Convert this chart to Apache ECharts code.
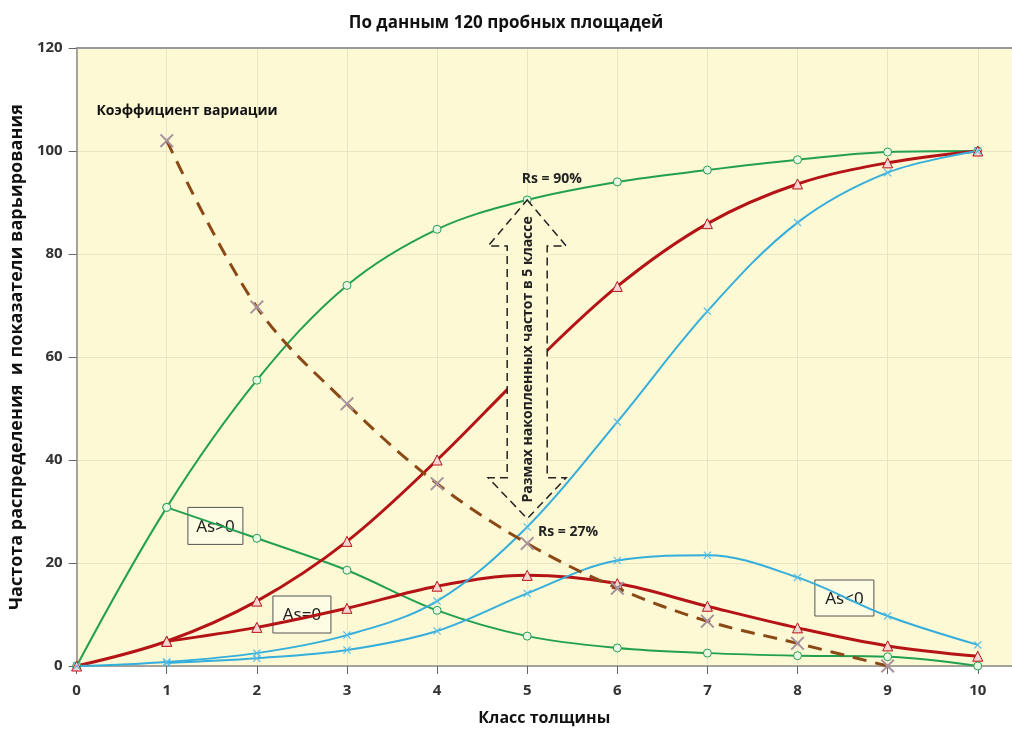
<!DOCTYPE html>
<html><head><meta charset="utf-8">
<script src="https://cdn.jsdelivr.net/npm/echarts@6/dist/echarts.min.js"></script>
<style>html,body{margin:0;padding:0;background:#fff}#c{width:1012px;height:731px}</style>
</head><body><div id="c"></div>
<script>
const classes=[0,1,2,3,4,5,6,7,8,9,10];
const greenCum=[0,30.8,55.5,73.9,84.8,90.5,94.0,96.3,98.3,99.8,100];
const greenFreq=[null,30.8,24.8,18.6,10.8,5.8,3.5,2.5,2.0,1.8,0];
const redCum=[0,4.8,12.6,24.2,40,57.5,73.7,85.9,93.6,97.7,100];
const redFreq=[null,4.8,7.5,11.2,15.5,17.6,16.0,11.6,7.4,3.9,1.9];
const blueCum=[0,0.8,2.5,6.0,12.6,27,47.4,68.9,86.1,95.8,100];
const blueFreq=[null,0.6,1.5,3.1,6.8,14.1,20.5,21.5,17.2,9.7,4.1];
const cvValues=[null,102,69.7,50.9,35.4,23.8,15.1,8.7,4.4,0,null];
const xTickLabels=['0','1','2','3','4','5','6','7','8','9','10'];
const yTickLabels=['0','20','40','60','80','100','120'];

const FONT='"Open Sans", "DejaVu Sans", sans-serif';
const BG='#fdf9d5';
const xPath='path://M0,1L1,0L5,4L9,0L10,1L6,5L10,9L9,10L5,6L1,10L0,9L4,5Z';
function pairs(arr){return classes.map((c,i)=>[c,arr[i]]);}

const chart=echarts.init(document.getElementById('c'));
const greenStyle={type:'line',smooth:0.35,symbol:'circle',symbolSize:8,
  lineStyle:{color:'#23a04f',width:2},itemStyle:{color:'#eaf6e4',borderColor:'#23a04f',borderWidth:1},z:3};
const redStyle={type:'line',smooth:0.35,symbol:'triangle',symbolSize:10,
  lineStyle:{color:'#b51417',width:3},itemStyle:{color:'#f6d4d2',borderColor:'#b51417',borderWidth:1},z:3};
const blueStyle={type:'line',smooth:0.35,symbol:xPath,symbolSize:8,
  lineStyle:{color:'#35aedb',width:2},itemStyle:{color:'#55bde6'},z:3};

chart.setOption({
  animation:false,
  backgroundColor:'#fff',
  title:{text:'По данным 120 пробных площадей',left:'center',top:10,
    textStyle:{fontFamily:FONT,fontSize:17,fontWeight:'bold',color:'#111'}},
  grid:{left:75,right:0,top:48,bottom:63,show:true,backgroundColor:BG,borderWidth:0},
  xAxis:[{type:'value',min:0,max:10.38,interval:1,
    name:'Класс толщины',nameLocation:'middle',nameGap:44,
    nameTextStyle:{fontFamily:FONT,fontSize:16,fontWeight:'bold',color:'#111'},
    axisLine:{show:true,lineStyle:{color:'#8a8a8a',width:1.5}},
    axisTick:{show:true,length:8,lineStyle:{color:'#666'}},
    axisLabel:{showMaxLabel:false,margin:17,fontFamily:FONT,fontSize:15,fontWeight:'bold',color:'#333',
      formatter:v=>{const i=Math.round(v);return (Math.abs(v-i)<1e-6&&i<xTickLabels.length)?xTickLabels[i]:'';}},
    splitLine:{show:true,lineStyle:{color:'#e9e4c3',width:1}}},
   {type:'value',position:'top',min:0,max:10.38,axisLine:{show:true,lineStyle:{color:'#999',width:2}},
    axisTick:{show:false},axisLabel:{show:false},splitLine:{show:false}}],
  yAxis:{type:'value',min:0,max:120,interval:20,
    name:'Частота распределения  и показатели варьирования',nameLocation:'middle',nameGap:44,
    nameTextStyle:{fontFamily:FONT,fontSize:18,fontWeight:'bold',color:'#111'},
    axisLine:{show:true,lineStyle:{color:'#8a8a8a',width:1.5}},
    axisTick:{show:true,length:8,lineStyle:{color:'#666'}},
    axisLabel:{margin:14,fontFamily:FONT,fontSize:15,fontWeight:'bold',color:'#333',
      formatter:v=>yTickLabels[Math.round(v/20)]},
    splitLine:{show:true,lineStyle:{color:'#e9e4c3',width:1}}},
  series:[
    Object.assign({name:'greenCum',data:pairs(greenCum)},greenStyle),
    Object.assign({name:'greenFreq',data:pairs(greenFreq)},greenStyle),
    Object.assign({name:'redCum',data:pairs(redCum)},redStyle),
    Object.assign({name:'redFreq',data:pairs(redFreq)},redStyle),
    Object.assign({name:'blueCum',data:pairs(blueCum)},blueStyle),
    Object.assign({name:'blueFreq',data:pairs(blueFreq)},blueStyle),
    {name:'cv',type:'line',smooth:0.35,data:pairs(cvValues),connectNulls:false,
      symbol:xPath,symbolSize:14,itemStyle:{color:'#a8929e'},
      lineStyle:{color:'#8b4a15',width:3,type:[14,9]},z:4}
  ]
});

function px(x,y){return chart.convertToPixel({gridIndex:0},[x,y]);}
const tp=px(5,90.5), bp=px(5,28.6);
const cx=tp[0], hw=39, sw=20, hh=46, hb=41;
const arrowPts=[[cx,tp[1]],[cx+hw,tp[1]+hh],[cx+sw,tp[1]+hh],[cx+sw,bp[1]-hb],[cx+hw,bp[1]-hb],[cx,bp[1]],
  [cx-hw,bp[1]-hb],[cx-sw,bp[1]-hb],[cx-sw,tp[1]+hh],[cx-hw,tp[1]+hh]];
function box(x,y,w,h,text){
  return {type:'group',x:x,y:y,z:100,children:[
    {type:'rect',shape:{x:-w/2,y:-h/2,width:w,height:h},style:{fill:'#fdfbe2',stroke:'#555',lineWidth:1}},
    {type:'text',style:{text:text,x:0,y:1,align:'center',verticalAlign:'middle',font:'17px "Noto Sans", "DejaVu Sans", sans-serif',fill:'#222'}}]};
}
const pA=px(1.54,27.2), pB=px(2.5,10.0), pC=px(8.52,13.2);
const pK=px(0.22,107.8), pR1=px(4.94,94.5), pR2=px(5.12,26);
chart.setOption({graphic:[
  {type:'polygon',z:90,shape:{points:arrowPts},style:{fill:BG,stroke:'#222',lineWidth:1.5,lineDash:[8,5]}},
  {type:'text',z:95,x:cx+1,y:(tp[1]+bp[1])/2,rotation:Math.PI/2,
    style:{text:'Размах накопленных частот в 5 классе',align:'center',verticalAlign:'middle',font:'bold 14px '+FONT,fill:'#222'}},
  box(pA[0],pA[1],55,37,'As>0'),
  box(pB[0],pB[1],58,37,'As=0'),
  box(pC[0],pC[1],59,36,'As<0'),
  {type:'text',z:95,x:pK[0],y:pK[1],style:{text:'Коэффициент вариации',verticalAlign:'middle',font:'bold 14px '+FONT,fill:'#111'}},
  {type:'text',z:95,x:pR1[0],y:pR1[1],style:{text:'Rs = 90%',verticalAlign:'middle',font:'bold 14px '+FONT,fill:'#222'}},
  {type:'text',z:95,x:pR2[0],y:pR2[1],style:{text:'Rs = 27%',verticalAlign:'middle',font:'bold 14px '+FONT,fill:'#222'}}
]});
</script></body></html>
